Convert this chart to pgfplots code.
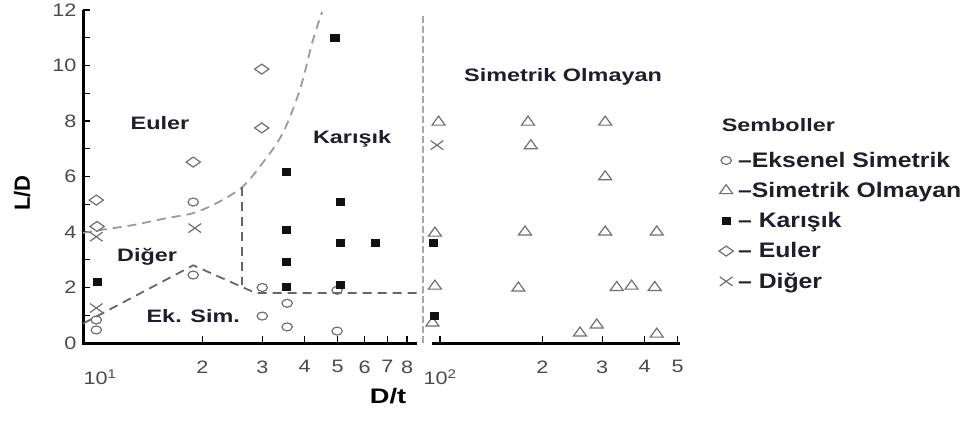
\documentclass[border=0pt]{standalone}
\usepackage{fontspec}
\setmainfont{Liberation Sans}
\newfontfamily\figfont[FakeStretch=1.3]{Liberation Sans}
\newfontfamily\tickfont[FakeStretch=1.2]{Liberation Sans}
\newfontfamily\legfont[FakeStretch=1.18]{Liberation Sans}
\usepackage{pgfplots}
\pgfplotsset{compat=1.18}
\definecolor{mk}{HTML}{707070}
\definecolor{sq}{HTML}{111111}
\definecolor{bndA}{HTML}{9A9A9A}
\definecolor{bndB}{HTML}{666666}
\definecolor{bndC}{HTML}{A8A8A8}
\definecolor{tickgray}{HTML}{4A4A4A}
\definecolor{txt}{HTML}{1E1E2C}
\begin{document}
\begin{tikzpicture}
\useasboundingbox (-83pt,-80pt) rectangle (890pt,343pt);
\begin{axis}[
  at={(0pt,0pt)}, anchor=south west,
  scale only axis, width=597pt, height=333pt,
  xmode=log, xmin=8.91, xmax=508, ymin=0, ymax=12,
  axis lines=left, axis line style={-},
  x axis line style={draw=none},
  y axis line style={line width=3pt, black},
  clip=false,
  tick align=inside,
  major tick length=7pt, minor tick length=7pt,
  tick style={line width=1.4pt, black},
  xtick={20,30,40,50,60,70,80,100,200,300,400,500},
  xticklabels={2,3,4,5,6,7,8,{},2,3,4,5},
  minor xtick={},
  extra x ticks={10,100},
  extra x tick labels={10\textsuperscript{1},10\textsuperscript{2}},
  extra x tick style={major tick length=0pt, xticklabel style={yshift=-9pt}},
  ytick={0,2,...,12},
  yticklabels={0,2,4,6,8,10,12},
  minor ytick={1,3,...,11},
  /pgf/number format/assume math mode=true,
  xticklabel style={font=\tickfont\fontsize{18}{18}\selectfont, text=tickgray, yshift=-14pt},
  yticklabel style={font=\tickfont\fontsize{18}{18}\selectfont, text=tickgray, xshift=-3pt},
  xlabel={D/t},
  xlabel style={font=\figfont\bfseries\fontsize{21}{21}\selectfont, text=black, at={(axis description cs:0.511,-0.158)}, anchor=center},
  ylabel={L/D},
  ylabel style={font=\bfseries\fontsize{22}{22}\selectfont, text=black, at={(axis description cs:-0.102,0.45)}, anchor=center},
  legend style={at={(axis description cs:1.065,0.58)}, anchor=north west, draw=none, fill=none, inner sep=0pt,
    font=\legfont\bfseries\fontsize{21}{22}\selectfont, text=txt, row sep=9.5pt},
  legend cell align=left,
  legend image code/.code={\path[draw=none] (0pt,0pt) -- (17pt,0pt);\draw[#1] plot[only marks] coordinates {(7pt,0pt)};},
]
% boundaries
\addplot[forget plot, color=bndA, line width=1.8pt, dash pattern=on 9pt off 6pt, smooth] coordinates {
 (8.91,3.97) (10,4.07) (12.5,4.25) (15.7,4.5) (18.8,4.68) (22.1,5.05) (26.2,5.62) (30.1,6.49) (34.5,7.57) (38.7,9.12) (42.3,10.92) (45.0,11.93)};
\addplot[forget plot, color=bndB, line width=1.8pt, dash pattern=on 9pt off 6pt] coordinates {
 (8.91,0.70) (18.8,2.80) (28.7,1.80) (89.2,1.80)};
\addplot[forget plot, color=bndB, line width=1.8pt, dash pattern=on 9pt off 6pt] coordinates {
 (26.2,5.62) (26.2,2.10)};
\addplot[forget plot, color=bndC, line width=1.6pt, dash pattern=on 7pt off 3pt] coordinates {
 (89.2,0) (89.2,11.8)};
% data
\addplot[only marks, color=mk, mark=o, mark size=4pt, mark options={xscale=1.3, line width=1.2pt}] coordinates {
 (9.75,0.83) (9.75,0.47) (18.8,5.08) (18.8,2.45) (30,2.0) (30,0.97) (35.5,1.43) (35.5,0.58) (49.8,1.9) (49.8,0.43)};
\addlegendentry{–Eksenel Simetrik}
\addplot[only marks, color=mk, mark=triangle, mark size=6pt, mark options={xscale=1.25, line width=1.2pt}] coordinates {
 (99,7.96) (181.5,7.96) (306,7.96) (185,7.11) (306,5.99) (96.6,3.96) (177.8,4.0) (306,4.0) (434,4.0)
 (96.6,2.05) (170,1.98) (331,2.0) (366,2.05) (428,2.0) (95,0.72) (258,0.36) (289,0.65) (434,0.32)};
\addlegendentry{–Simetrik Olmayan}
\addplot[only marks, color=sq, mark=square*, mark size=3.5pt, mark options={xscale=1.15}] coordinates {
 (9.8,2.2) (49,10.99) (35.2,6.16) (35.2,4.1) (35.2,2.92) (35.2,2.02) (51,5.08) (51,3.6) (64.3,3.6) (51,2.09) (95.5,3.6) (96,1.0)};
\addlegendentry{– Karışık}
\addplot[only marks, color=mk, mark=diamond, mark size=5pt, mark options={xscale=1.9, line width=1.2pt}] coordinates {
 (9.75,5.15) (9.8,4.2) (18.8,6.52) (29.9,9.87) (29.9,7.75)};
\addlegendentry{– Euler}
\addplot[only marks, color=mk, mark=x, mark size=6.4pt, mark options={xscale=1.4, line width=1.2pt}] coordinates {
 (98,7.13) (19.0,4.14) (9.75,3.83) (9.75,1.26)};
\addlegendentry{– Diğer}
% x axis line with break
\draw[line width=3pt, black] ([xshift=-1.5pt]axis cs:8.91,0) -- (axis cs:85.5,0);
\draw[line width=3pt, black] (axis cs:94.7,0) -- (axis cs:508,0);
% region labels
\begin{scope}[every node/.style={font=\figfont\bfseries\fontsize{18}{18}\selectfont, text=txt}]
\node at (axis cs:15.0,7.93) {Euler};
\node at (axis cs:55.1,7.35) {Karışık};
\node at (axis cs:13.75,3.1) {Diğer};
\node at (axis cs:18.8,0.97) {Ek. Sim.};
\node at (axis cs:230,9.59) {Simetrik Olmayan};
\node[anchor=west] at (axis description cs:1.064,0.655) {Semboller};
\end{scope}
\end{axis}
\end{tikzpicture}
\end{document}
